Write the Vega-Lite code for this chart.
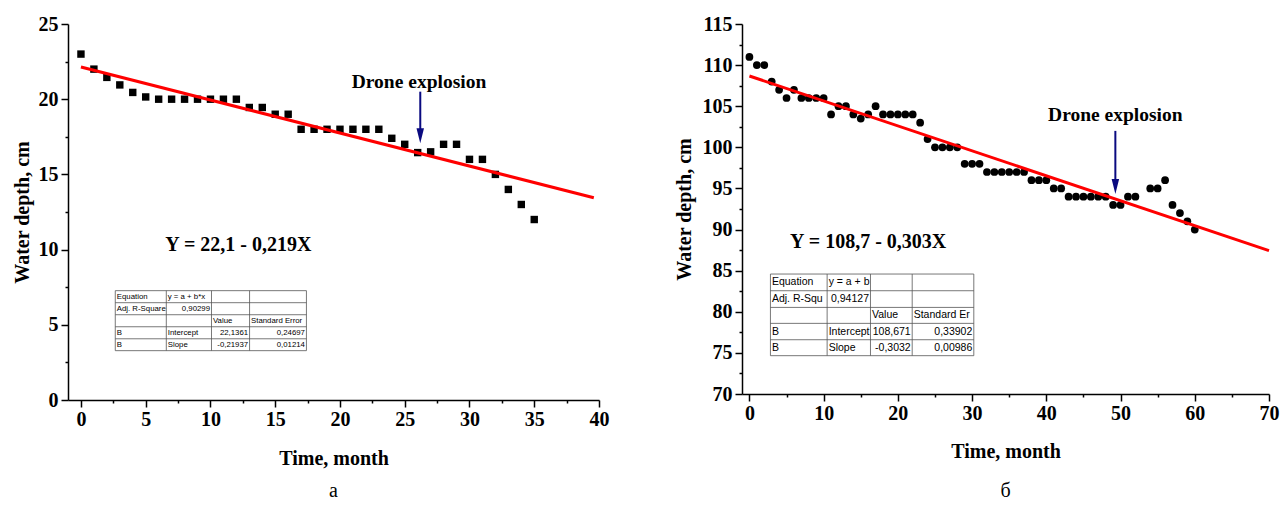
{
  "$schema": "https://vega.github.io/schema/vega-lite/v6.json",
  "background": "white",
  "padding": {"left": 12, "top": 14, "right": 5, "bottom": 5},
  "bounds": "flush",
  "spacing": 143,
  "config": {"view": {"stroke": null}, "font": "Liberation Serif"},
  "hconcat": [
    {
      "width": 531,
      "height": 376,
      "title": {"text": "а", "orient": "bottom", "font": "Liberation Serif", "fontSize": 20, "fontWeight": "normal", "color": "black", "offset": 13},
      "encoding": {
        "x": {
          "field": "t", "type": "quantitative",
          "scale": {"domain": [-1, 40], "nice": false, "zero": false},
          "axis": {
            "title": "Time, month",
            "values": [0, 2.5, 5, 7.5, 10, 12.5, 15, 17.5, 20, 22.5, 25, 27.5, 30, 32.5, 35, 37.5, 40],
            "labelExpr": "datum.value % 5 === 0 ? datum.label : ''",
            "tickSize": {"condition": {"test": "datum.value % 5 === 0", "value": 7}, "value": 3},
            "grid": false, "domainColor": "black", "domainWidth": 1.5, "tickColor": "black", "tickWidth": 1.5,
            "labelFont": "Liberation Serif", "labelFontWeight": "bold", "labelFontSize": 20, "labelColor": "black",
            "labelPadding": 2, "labelFlush": false, "labelOverlap": false,
            "titleFont": "Liberation Serif", "titleFontWeight": "bold", "titleFontSize": 20, "titleColor": "black", "titlePadding": 19
          }
        },
        "y": {
          "field": "d", "type": "quantitative",
          "scale": {"domain": [0, 25], "nice": false, "zero": false},
          "axis": {
            "title": "Water depth, cm",
            "values": [0, 2.5, 5, 7.5, 10, 12.5, 15, 17.5, 20, 22.5, 25],
            "labelExpr": "datum.value % 5 === 0 ? datum.label : ''",
            "tickSize": {"condition": {"test": "datum.value % 5 === 0", "value": 7}, "value": 3},
            "grid": false, "domainColor": "black", "domainWidth": 1.5, "tickColor": "black", "tickWidth": 1.5,
            "labelFont": "Liberation Serif", "labelFontWeight": "bold", "labelFontSize": 20, "labelColor": "black",
            "labelPadding": 3, "labelFlush": false, "labelOverlap": false,
            "titleFont": "Liberation Serif", "titleFontWeight": "bold", "titleFontSize": 20, "titleColor": "black", "titlePadding": 6
          }
        }
      },
      "layer": [
        {
          "data": {"values": [
            {"t": 0, "d": 23}, {"t": 1, "d": 22}, {"t": 2, "d": 21.45}, {"t": 3, "d": 20.95}, {"t": 4, "d": 20.45},
            {"t": 5, "d": 20.15}, {"t": 6, "d": 20}, {"t": 7, "d": 20}, {"t": 8, "d": 20}, {"t": 9, "d": 20},
            {"t": 10, "d": 20}, {"t": 11, "d": 20}, {"t": 12, "d": 20}, {"t": 13, "d": 19.45}, {"t": 14, "d": 19.45},
            {"t": 15, "d": 19}, {"t": 16, "d": 19}, {"t": 17, "d": 18}, {"t": 18, "d": 18}, {"t": 19, "d": 18},
            {"t": 20, "d": 18}, {"t": 21, "d": 18}, {"t": 22, "d": 18}, {"t": 23, "d": 18}, {"t": 24, "d": 17.4},
            {"t": 25, "d": 17}, {"t": 26, "d": 16.45}, {"t": 27, "d": 16.5}, {"t": 28, "d": 17}, {"t": 29, "d": 17},
            {"t": 30, "d": 16}, {"t": 31, "d": 16}, {"t": 32, "d": 15}, {"t": 33, "d": 14}, {"t": 34, "d": 13}, {"t": 35, "d": 12}
          ]},
          "mark": {"type": "square", "filled": true, "color": "black", "size": 55, "opacity": 1}
        },
        {
          "data": {"values": [{"t": 0, "d": 22.1361}, {"t": 39.6, "d": 13.449}]},
          "mark": {"type": "line", "color": "#FF0000", "strokeWidth": 3}
        },
        {
          "data": {"values": [{"t": 26.2, "d": 20.5, "d2": 17.6}]},
          "mark": {"type": "rule", "color": "#0A0A80", "strokeWidth": 2},
          "encoding": {"y2": {"field": "d2"}}
        },
        {
          "data": {"values": [{"t": 26.2, "d": 17.07}]},
          "mark": {"type": "point", "shape": "M-0.5,-2L0.5,-2L0,0Z", "filled": true, "color": "#0A0A80", "size": 225, "opacity": 1}
        },
        {
          "data": {"values": [{"t": 26.1, "d": 20.72, "label": "Drone explosion"}]},
          "mark": {"type": "text", "font": "Liberation Serif", "fontWeight": "bold", "fontSize": 19.5, "color": "black", "align": "center", "baseline": "alphabetic"},
          "encoding": {"text": {"field": "label"}}
        },
        {
          "data": {"values": [{"t": 12.15, "d": 9.9, "label": "Y = 22,1 - 0,219X"}]},
          "mark": {"type": "text", "font": "Liberation Serif", "fontWeight": "bold", "fontSize": 20, "color": "black", "align": "center", "baseline": "alphabetic"},
          "encoding": {"text": {"field": "label"}}
        },
        {
          "data": {"values": [
            {"t": 2.65, "t2": 17.41, "d": 7.27, "d2": 7.27},
            {"t": 2.65, "t2": 17.41, "d": 6.47, "d2": 6.47},
            {"t": 2.65, "t2": 17.41, "d": 5.67, "d2": 5.67},
            {"t": 2.65, "t2": 17.41, "d": 4.87, "d2": 4.87},
            {"t": 2.65, "t2": 17.41, "d": 4.07, "d2": 4.07},
            {"t": 2.65, "t2": 17.41, "d": 3.28, "d2": 3.28},
            {"t": 2.65, "t2": 2.65, "d": 7.27, "d2": 3.28},
            {"t": 6.59, "t2": 6.59, "d": 7.27, "d2": 3.28},
            {"t": 10.08, "t2": 10.08, "d": 7.27, "d2": 3.28},
            {"t": 13.02, "t2": 13.02, "d": 7.27, "d2": 3.28},
            {"t": 17.41, "t2": 17.41, "d": 7.27, "d2": 3.28}
          ]},
          "mark": {"type": "rule", "color": "#555555", "strokeWidth": 0.8},
          "encoding": {"x2": {"field": "t2"}, "y2": {"field": "d2"}}
        },
        {
          "data": {"values": [
            {"t": 2.65, "d": 6.87, "label": "Equation"},
            {"t": 6.59, "d": 6.87, "label": "y = a + b*x"},
            {"t": 2.65, "d": 6.07, "label": "Adj. R-Square"},
            {"t": 10.08, "d": 5.27, "label": "Value"},
            {"t": 13.02, "d": 5.27, "label": "Standard Error"},
            {"t": 2.65, "d": 4.47, "label": "B"},
            {"t": 6.59, "d": 4.47, "label": "Intercept"},
            {"t": 2.65, "d": 3.67, "label": "B"},
            {"t": 6.59, "d": 3.67, "label": "Slope"}
          ]},
          "mark": {"type": "text", "font": "Liberation Sans", "fontSize": 7.8, "color": "black", "align": "left", "baseline": "middle", "dx": 1.5},
          "encoding": {"text": {"field": "label"}}
        },
        {
          "data": {"values": [
            {"t": 10.08, "d": 6.07, "label": "0,90299"},
            {"t": 13.02, "d": 4.47, "label": "22,1361"},
            {"t": 17.41, "d": 4.47, "label": "0,24697"},
            {"t": 13.02, "d": 3.67, "label": "-0,21937"},
            {"t": 17.41, "d": 3.67, "label": "0,01214"}
          ]},
          "mark": {"type": "text", "font": "Liberation Sans", "fontSize": 7.8, "color": "black", "align": "right", "baseline": "middle", "dx": -1.5},
          "encoding": {"text": {"field": "label"}}
        }
      ]
    },
    {
      "width": 527,
      "height": 370,
      "title": {"text": "б", "orient": "bottom", "font": "Liberation Serif", "fontSize": 20, "fontWeight": "normal", "color": "black", "offset": 20},
      "encoding": {
        "x": {
          "field": "t", "type": "quantitative",
          "scale": {"domain": [-1, 70], "nice": false, "zero": false},
          "axis": {
            "title": "Time, month",
            "values": [0, 5, 10, 15, 20, 25, 30, 35, 40, 45, 50, 55, 60, 65, 70],
            "labelExpr": "datum.value % 10 === 0 ? datum.label : ''",
            "tickSize": {"condition": {"test": "datum.value % 10 === 0", "value": 7}, "value": 3},
            "grid": false, "domainColor": "black", "domainWidth": 1.5, "tickColor": "black", "tickWidth": 1.5,
            "labelFont": "Liberation Serif", "labelFontWeight": "bold", "labelFontSize": 20, "labelColor": "black",
            "labelPadding": 2, "labelFlush": false, "labelOverlap": false,
            "titleFont": "Liberation Serif", "titleFontWeight": "bold", "titleFontSize": 20, "titleColor": "black", "titlePadding": 18
          }
        },
        "y": {
          "field": "d", "type": "quantitative",
          "scale": {"domain": [70, 115], "nice": false, "zero": false},
          "axis": {
            "title": "Water depth, cm",
            "values": [70, 72.5, 75, 77.5, 80, 82.5, 85, 87.5, 90, 92.5, 95, 97.5, 100, 102.5, 105, 107.5, 110, 112.5, 115],
            "labelExpr": "datum.value % 5 === 0 ? datum.label : ''",
            "tickSize": {"condition": {"test": "datum.value % 5 === 0", "value": 7}, "value": 3},
            "grid": false, "domainColor": "black", "domainWidth": 1.5, "tickColor": "black", "tickWidth": 1.5,
            "labelFont": "Liberation Serif", "labelFontWeight": "bold", "labelFontSize": 20, "labelColor": "black",
            "labelPadding": 3, "labelFlush": false, "labelOverlap": false,
            "titleFont": "Liberation Serif", "titleFontWeight": "bold", "titleFontSize": 20, "titleColor": "black", "titlePadding": 8
          }
        }
      },
      "layer": [
        {
          "data": {"values": [
            {"t": 0, "d": 111}, {"t": 1, "d": 110}, {"t": 2, "d": 110}, {"t": 3, "d": 108}, {"t": 4, "d": 107},
            {"t": 5, "d": 106}, {"t": 6, "d": 107}, {"t": 7, "d": 106}, {"t": 8, "d": 106}, {"t": 9, "d": 106},
            {"t": 10, "d": 106}, {"t": 11, "d": 104}, {"t": 12, "d": 105}, {"t": 13, "d": 105}, {"t": 14, "d": 104},
            {"t": 15, "d": 103.5}, {"t": 16, "d": 104}, {"t": 17, "d": 105}, {"t": 18, "d": 104}, {"t": 19, "d": 104},
            {"t": 20, "d": 104}, {"t": 21, "d": 104}, {"t": 22, "d": 104}, {"t": 23, "d": 103}, {"t": 24, "d": 101},
            {"t": 25, "d": 100}, {"t": 26, "d": 100}, {"t": 27, "d": 100}, {"t": 28, "d": 100}, {"t": 29, "d": 98},
            {"t": 30, "d": 98}, {"t": 31, "d": 98}, {"t": 32, "d": 97}, {"t": 33, "d": 97}, {"t": 34, "d": 97},
            {"t": 35, "d": 97}, {"t": 36, "d": 97}, {"t": 37, "d": 97}, {"t": 38, "d": 96}, {"t": 39, "d": 96},
            {"t": 40, "d": 96}, {"t": 41, "d": 95}, {"t": 42, "d": 95}, {"t": 43, "d": 94}, {"t": 44, "d": 94},
            {"t": 45, "d": 94}, {"t": 46, "d": 94}, {"t": 47, "d": 94}, {"t": 48, "d": 94}, {"t": 49, "d": 93},
            {"t": 50, "d": 93}, {"t": 51, "d": 94}, {"t": 52, "d": 94}, {"t": 54, "d": 95}, {"t": 55, "d": 95},
            {"t": 56, "d": 96}, {"t": 57, "d": 93}, {"t": 58, "d": 92}, {"t": 59, "d": 91}, {"t": 60, "d": 90}
          ]},
          "mark": {"type": "circle", "color": "black", "size": 60, "opacity": 1}
        },
        {
          "data": {"values": [{"t": 0, "d": 108.671}, {"t": 70, "d": 87.447}]},
          "mark": {"type": "line", "color": "#FF0000", "strokeWidth": 3}
        },
        {
          "data": {"values": [{"t": 49.3, "d": 102.0, "d2": 95.5}]},
          "mark": {"type": "rule", "color": "#0A0A80", "strokeWidth": 2},
          "encoding": {"y2": {"field": "d2"}}
        },
        {
          "data": {"values": [{"t": 49.3, "d": 94.33}]},
          "mark": {"type": "point", "shape": "M-0.5,-2L0.5,-2L0,0Z", "filled": true, "color": "#0A0A80", "size": 225, "opacity": 1}
        },
        {
          "data": {"values": [{"t": 49.3, "d": 103.2, "label": "Drone explosion"}]},
          "mark": {"type": "text", "font": "Liberation Serif", "fontWeight": "bold", "fontSize": 19.5, "color": "black", "align": "center", "baseline": "alphabetic"},
          "encoding": {"text": {"field": "label"}}
        },
        {
          "data": {"values": [{"t": 16.0, "d": 87.7, "label": "Y = 108,7 - 0,303X"}]},
          "mark": {"type": "text", "font": "Liberation Serif", "fontWeight": "bold", "fontSize": 20, "color": "black", "align": "center", "baseline": "alphabetic"},
          "encoding": {"text": {"field": "label"}}
        },
        {
          "data": {"values": [
            {"t": 2.83, "t2": 30.23, "d": 84.59, "d2": 84.59},
            {"t": 2.83, "t2": 30.23, "d": 82.56, "d2": 82.56},
            {"t": 2.83, "t2": 30.23, "d": 80.53, "d2": 80.53},
            {"t": 2.83, "t2": 30.23, "d": 78.59, "d2": 78.59},
            {"t": 2.83, "t2": 30.23, "d": 76.6, "d2": 76.6},
            {"t": 2.83, "t2": 30.23, "d": 74.66, "d2": 74.66},
            {"t": 2.83, "t2": 2.83, "d": 84.59, "d2": 74.66},
            {"t": 10.47, "t2": 10.47, "d": 84.59, "d2": 74.66},
            {"t": 16.31, "t2": 16.31, "d": 84.59, "d2": 74.66},
            {"t": 21.93, "t2": 21.93, "d": 84.59, "d2": 74.66},
            {"t": 30.23, "t2": 30.23, "d": 84.59, "d2": 74.66}
          ]},
          "mark": {"type": "rule", "color": "#555555", "strokeWidth": 0.8},
          "encoding": {"x2": {"field": "t2"}, "y2": {"field": "d2"}}
        },
        {
          "data": {"values": [
            {"t": 2.83, "d": 83.58, "label": "Equation"},
            {"t": 10.47, "d": 83.58, "label": "y = a + b"},
            {"t": 2.83, "d": 81.55, "label": "Adj. R-Squ"},
            {"t": 16.31, "d": 79.56, "label": "Value"},
            {"t": 21.93, "d": 79.56, "label": "Standard Er"},
            {"t": 2.83, "d": 77.6, "label": "B"},
            {"t": 10.47, "d": 77.6, "label": "Intercept"},
            {"t": 2.83, "d": 75.63, "label": "B"},
            {"t": 10.47, "d": 75.63, "label": "Slope"}
          ]},
          "mark": {"type": "text", "font": "Liberation Sans", "fontSize": 10.5, "color": "black", "align": "left", "baseline": "middle", "dx": 1.5},
          "encoding": {"text": {"field": "label"}}
        },
        {
          "data": {"values": [
            {"t": 16.31, "d": 81.55, "label": "0,94127"},
            {"t": 21.93, "d": 77.6, "label": "108,671"},
            {"t": 30.23, "d": 77.6, "label": "0,33902"},
            {"t": 21.93, "d": 75.63, "label": "-0,3032"},
            {"t": 30.23, "d": 75.63, "label": "0,00986"}
          ]},
          "mark": {"type": "text", "font": "Liberation Sans", "fontSize": 10.5, "color": "black", "align": "right", "baseline": "middle", "dx": -1.5},
          "encoding": {"text": {"field": "label"}}
        }
      ]
    }
  ]
}
